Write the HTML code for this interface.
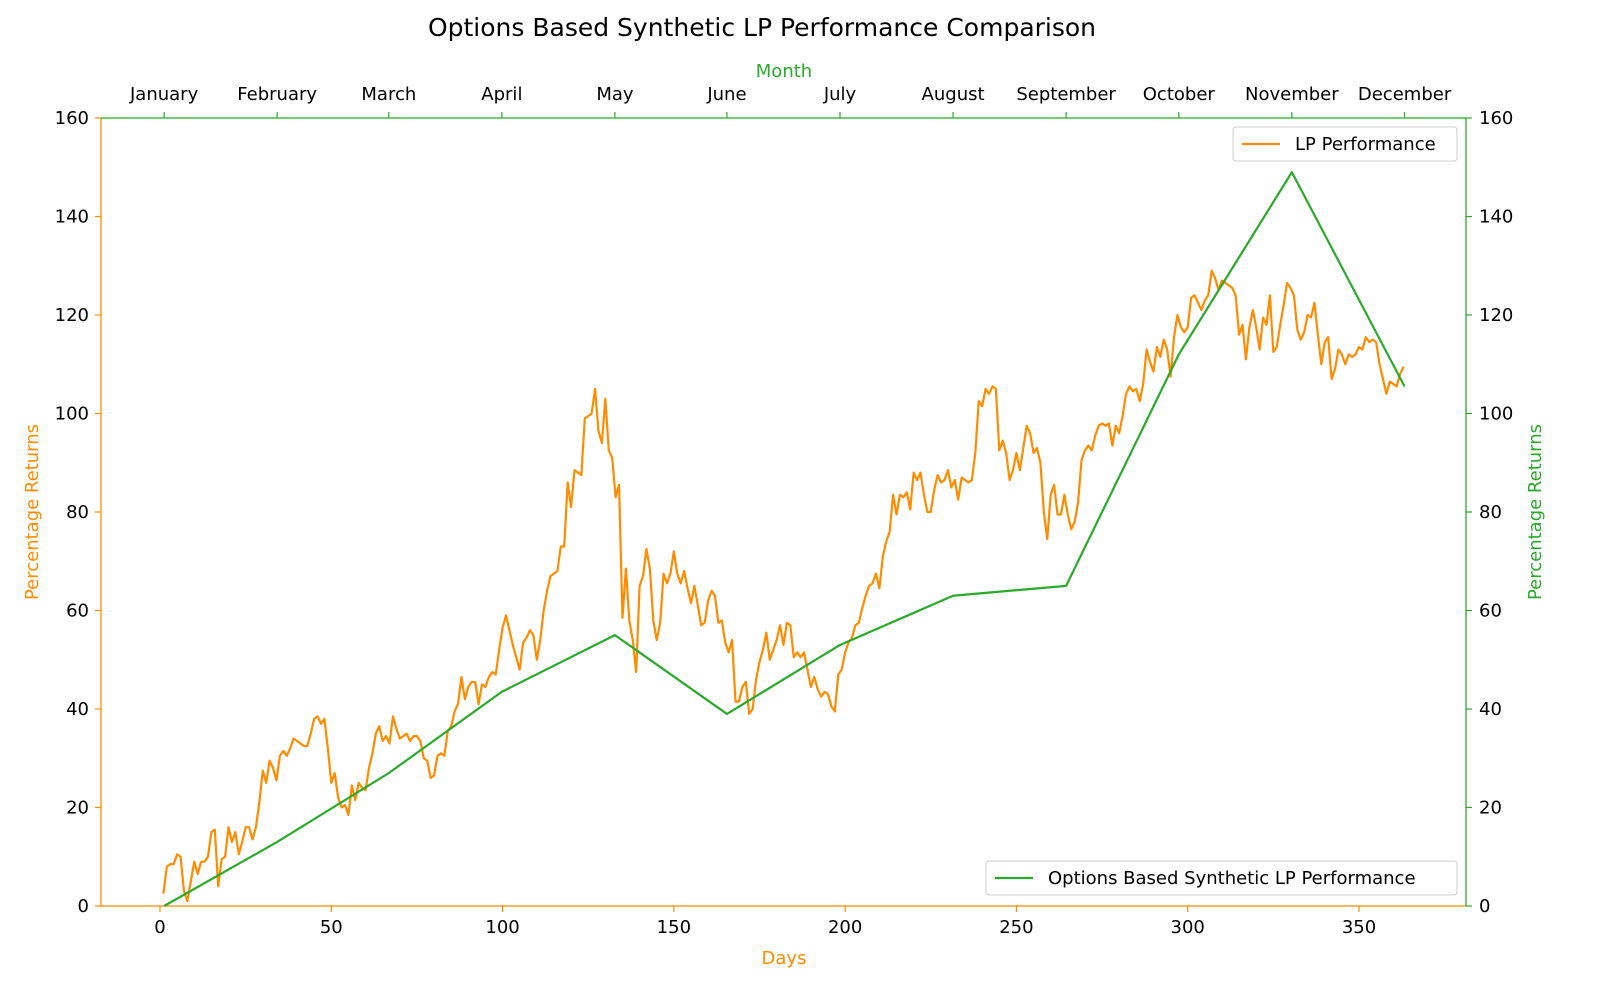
<!DOCTYPE html>
<html><head><meta charset="utf-8"><style>
html,body{margin:0;padding:0;background:#fff;}
svg{display:block;font-family:"DejaVu Sans","Liberation Sans",sans-serif;}
</style></head><body>
<svg id="chart" width="1600" height="1004"></svg>
<script>
const lpValues=[2.5,8,8.5,8.5,10.5,10,3,1,5,9,6.5,9,9,10,15,15.5,4,9.5,10,16,13,15,10.5,13,16,16,13.5,16,21,27.5,25,29.5,28,25.5,30.5,31.5,30.5,32,34,33.5,33,32.5,32.5,35,38,38.5,37,38,32,25,27,22,20,20.5,18.5,24.5,21.5,25,24,23.5,28,31,35,36.5,33.5,34.5,33,38.5,36,34,34.5,35,33.5,34.5,34.5,33.5,30,29.5,26,26.5,30.5,31,30.5,35.5,36.5,39.5,41,46.5,42,44.5,45.5,45.5,41,45,44.5,46.5,47.5,47,52,56.5,59,56,53,50.5,48,53.5,54.5,56,55,50,54,60,64,67,67.5,68,73,73,86,81,88.5,88,87.5,99,99.5,100,105,96.5,94,103,92.5,91,83,85.5,58.5,68.5,58,54,47.5,65,67,72.5,68.5,58,54,57.5,67.5,65.5,67.5,72,67.5,65.5,68,64.5,61.5,65,61,57,57.5,62,64,63,57.5,58,53.5,51.5,54,41.5,41.5,44.5,45.5,39,40,46,49.5,52,55.5,50,52,54,57,53,57.5,57,50.5,51.5,50.5,51.5,48,44.5,46.5,44,42.5,43.5,43,40.5,39.5,47,48,51.5,53.5,54.5,57,57.5,60.5,63,65,65.5,67.5,64.5,71,74,76,83.5,79.5,83.5,83,84,80.5,88,86.5,88,83.5,80,80,84.5,87.5,86,86.5,88.5,85,86.5,82.5,87,86.5,86,86.5,92,102.5,101.5,105,104,105.5,105,92.5,94.5,92,86.5,88.5,92,88.5,93,97.5,96,92,93,90,80,74.5,83.5,85.5,79.5,79.5,83.5,79.5,76.5,78,82,90.5,92.5,93.5,92.5,95.5,97.5,98,97.5,98,93.5,97.5,96,99.5,104,105.5,104.5,105,102.5,106,113,110.5,108.5,113.5,111.5,115,113,107.5,115.5,120,117.5,116.5,117.5,123.5,124,122.5,121,123,124,129,127.5,125,127,126.5,126,125.5,124,116,118,111,117.5,121,117.5,113,119.5,118,124,112.5,113.5,118,122,126.5,125.5,124,117,115,116.5,120,119.5,122.5,116,110,114.5,115.5,107,109,113,112,110,112,111.5,112,113.5,113,115.5,114.5,115,114.5,110,107,104,106.5,106,105.5,108,109.5];
const monthLabels=["January","February","March","April","May","June","July","August","September","October","November","December"];
const monthDays=[1.2,34.2,66.8,99.8,132.8,165.5,198.5,231.5,264.5,297.4,330.4,363.3];
const synthValues=[0,13,27,43.5,55,39,53,63,65,112,149,105.5];
const xTicks=[0,50,100,150,200,250,300,350];
const yTicks=[0,20,40,60,80,100,120,140,160];

const OR="#ff8c00",GR="#2aaa2a";
const L=101,R=1466,T=118,B=906;
const xs=d=>160+d*3.4257;
const ys=v=>B-(v/160)*(B-T);
const svg=document.getElementById('chart');
const NS="http://www.w3.org/2000/svg";
function mk(tag,attrs,parent){const e=document.createElementNS(NS,tag);for(const k in attrs)e.setAttribute(k,attrs[k]);(parent||svg).appendChild(e);return e;}
function txt(s,attrs){const e=mk('text',attrs);e.textContent=s;return e;}

let t=txt("Options Based Synthetic LP Performance Comparison",{x:762,y:36,"font-size":25,"text-anchor":"middle",fill:"#000"});


let s;
s=mk('line',{x1:L,y1:B,x2:R,y2:B,stroke:OR,"stroke-width":1.3});
s=mk('line',{x1:L,y1:T,x2:L,y2:B,stroke:OR,"stroke-width":1.3});
s=mk('line',{x1:L,y1:T,x2:R,y2:T,stroke:GR,"stroke-width":1.3});
s=mk('line',{x1:R,y1:T,x2:R,y2:B,stroke:GR,"stroke-width":1.3});

xTicks.forEach(v=>{
  mk('line',{x1:xs(v),y1:B,x2:xs(v),y2:B+6,stroke:OR,"stroke-width":1.2});
  const e=txt(v,{x:xs(v),y:933,"font-size":18,"text-anchor":"middle",fill:"#000"});
  
});
yTicks.forEach(v=>{
  mk('line',{x1:L-6,y1:ys(v),x2:L,y2:ys(v),stroke:OR,"stroke-width":1.2});
  let e=txt(v,{x:89,y:ys(v)+6,"font-size":18,"text-anchor":"end",fill:"#000"});
  
  mk('line',{x1:R,y1:ys(v),x2:R+6,y2:ys(v),stroke:GR,"stroke-width":1.2});
  e=txt(v,{x:1479,y:ys(v)+6,"font-size":18,"text-anchor":"start",fill:"#000"});
  
});
monthDays.forEach((d,i)=>{
  mk('line',{x1:xs(d),y1:T-6,x2:xs(d),y2:T,stroke:GR,"stroke-width":1.2});
  const e=txt(monthLabels[i],{x:xs(d),y:100,"font-size":18,"text-anchor":"middle",fill:"#000"});
  
});
t=txt("Month",{x:784,y:77,"font-size":18,"text-anchor":"middle",fill:GR});
t=txt("Days",{x:784,y:964,"font-size":18,"text-anchor":"middle",fill:OR});
t=txt("Percentage Returns",{x:0,y:0,"font-size":18,"text-anchor":"middle",fill:OR,transform:"translate(38,512) rotate(-90)"});
t=txt("Percentage Returns",{x:0,y:0,"font-size":18,"text-anchor":"middle",fill:GR,transform:"translate(1541,512) rotate(-90)"});

let p=mk('polyline',{points:lpValues.map((v,i)=>xs(i+1)+","+ys(v)).join(" "),fill:"none",stroke:OR,"stroke-width":2.2,"stroke-linejoin":"round"});

p=mk('polyline',{points:synthValues.map((v,i)=>xs(monthDays[i])+","+ys(v)).join(" "),fill:"none",stroke:GR,"stroke-width":2.2,"stroke-linejoin":"round"});


function legend(x,y,w,color,label,name){
  const g=mk('g',{});
  mk('rect',{x:x,y:y,width:w,height:34,rx:3,fill:"#fff","fill-opacity":0.85,stroke:"#ccc"},g);
  mk('line',{x1:x+9,y1:y+17,x2:x+47,y2:y+17,stroke:color,"stroke-width":2.2},g);
  const e=mk('text',{x:x+62,y:y+23,"font-size":18,fill:"#000"},g);e.textContent=label;
}
legend(1233,127,224,OR,"LP Performance","legend-lp");
legend(986,861,471,GR,"Options Based Synthetic LP Performance","legend-synthetic");
</script>
</body></html>
